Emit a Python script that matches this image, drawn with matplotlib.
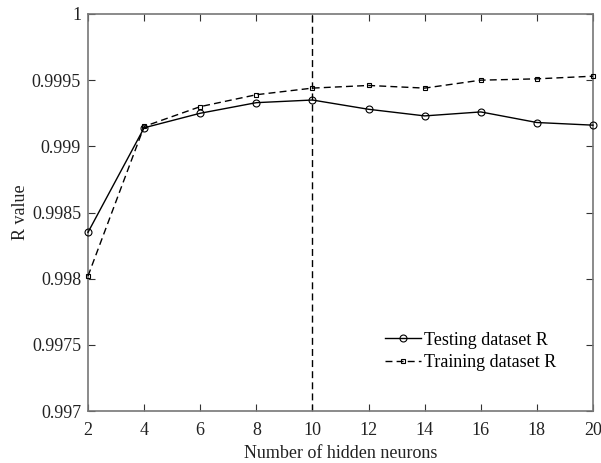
import numpy as np
import matplotlib.pyplot as plt

plt.rcParams['font.family'] = ['Liberation Serif', 'DejaVu Serif']

neurons = [2, 4, 6, 8, 10, 12, 14, 16, 18, 20]
r_test = [0.99835, 0.99914, 0.99925, 0.99933, 0.99935, 0.99928, 0.99923, 0.99926, 0.99918, 0.99916]
r_train = [0.99802, 0.99915, 0.99930, 0.99939, 0.99944, 0.99946, 0.99944, 0.99950, 0.99951, 0.99953]
best_n = 10
yticks = [0.997, 0.9975, 0.998, 0.9985, 0.999, 0.9995, 1.0]
ylabels = ['0.997', '0.9975', '0.998', '0.9985', '0.999', '0.9995', '1']

fig = plt.figure(figsize=(6.01, 4.63), dpi=100)
ax = fig.add_axes([88/601, 1 - 411/463, (593-88)/601, (411-14)/463])

ax.plot(neurons, r_test, color='black', lw=1, marker='o', ms=5, mfc='none', mew=0.8,
        label='Testing dataset R', clip_on=False, zorder=3)
ax.plot(neurons, r_train, color='black', lw=1, ls=(0, (5, 3)), marker='s', ms=3.5, mfc='none',
        mew=0.8, label='Training dataset R', clip_on=False, zorder=3)
ax.plot([best_n, best_n], [0.997, 1.0], color='black', lw=1, ls=(0, (5, 3)))

ax.set_xlim(2, 20)
ax.set_ylim(0.997, 1.0)
ax.set_xticks(neurons)
ax.set_yticks(yticks)
ax.set_yticklabels(ylabels)
ax.tick_params(direction='in', top=True, right=True, labelsize=13, length=5, color='#333333',
               labelcolor='#222222')
ax.tick_params(axis='x', pad=8)
ax.tick_params(axis='y', pad=5)
for s in ax.spines.values():
    s.set_color('#777777')
    s.set_linewidth(1.2)
ax.set_xlabel('Number of hidden neurons', fontsize=13, labelpad=4, color='#222222')
ax.set_ylabel('R value', fontsize=13, labelpad=2, color='#222222')

ax.legend(loc='lower right', frameon=False, fontsize=13, bbox_to_anchor=(0.96, 0.06),
          handlelength=2.0, handletextpad=0.2, labelspacing=0.3, numpoints=1)

fig.savefig('out.png', dpi=100)
